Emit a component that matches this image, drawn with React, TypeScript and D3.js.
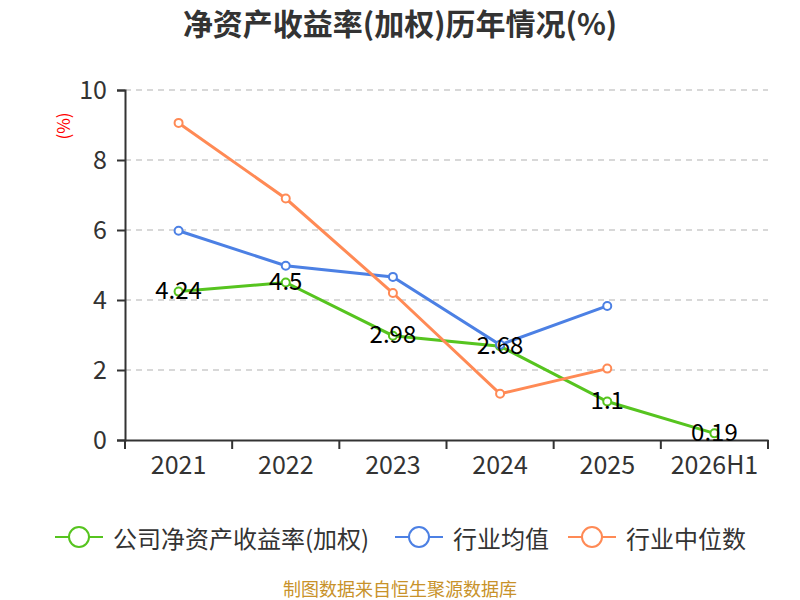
import React, { useEffect, useRef } from 'react';
import * as d3 from 'd3';

const years = ['2021', '2022', '2023', '2024', '2025', '2026H1'];
const companyRoe = [4.24, 4.5, 2.98, 2.68, 1.1, 0.19];
const industryAvg = [5.98, 4.98, 4.66, 2.72, 3.83];
const industryMedian = [9.06, 6.9, 4.2, 1.32, 2.04];
const yTicks = [0, 2, 4, 6, 8, 10];

const FONT = '"Noto Sans CJK SC", "Noto Sans", sans-serif';

const series = [
  { name: '公司净资产收益率(加权)', values: companyRoe, color: '#56c41f', labels: true },
  { name: '行业均值', values: industryAvg, color: '#4c80e4', labels: false },
  { name: '行业中位数', values: industryMedian, color: '#ff8a55', labels: false },
];

const App: React.FC = () => {
  const svgRef = useRef<SVGSVGElement>(null);

  useEffect(() => {
    document.body.style.margin = '0';
    if (!svgRef.current) return;
    const svg = d3.select(svgRef.current);
    svg.selectAll('*').remove();

    const left = 125, right = 768, top = 90, bottom = 440;

    const x = d3.scaleBand().domain(years).range([left, right]);
    const y = d3.scaleLinear().domain([0, 10]).range([bottom, top]);
    const cx = (i: number) => (x(years[i]) || 0) + x.bandwidth() / 2;

    // title
    svg.append('text')
      .attr('x', 400).attr('y', 35)
      .attr('text-anchor', 'middle')
      .attr('font-family', FONT)
      .attr('font-size', 30)
      .attr('font-weight', 'bold')
      .attr('fill', '#333')
      .text('净资产收益率(加权)历年情况(%)');

    // gridlines
    svg.append('g').selectAll('line')
      .data(yTicks.filter(d => d > 0))
      .join('line')
      .attr('x1', left).attr('x2', right)
      .attr('y1', d => y(d)).attr('y2', d => y(d))
      .attr('stroke', '#ccc')
      .attr('stroke-width', 1.5)
      .attr('stroke-dasharray', '6,5');

    // y axis
    const yAxis = svg.append('g')
      .attr('transform', `translate(${left},0)`)
      .call(d3.axisLeft(y).tickValues(yTicks).tickSize(8).tickPadding(10).tickFormat(d3.format('d')));
    yAxis.select('.domain').attr('stroke', '#333').attr('stroke-width', 2);
    yAxis.selectAll('.tick line').attr('stroke', '#333').attr('stroke-width', 2);
    yAxis.selectAll('text')
      .attr('font-family', FONT).attr('font-size', 25).attr('fill', '#333');

    // y axis name
    svg.append('text')
      .attr('transform', 'translate(62,126) rotate(-90)')
      .attr('text-anchor', 'middle')
      .attr('dominant-baseline', 'central')
      .attr('font-family', FONT)
      .attr('font-size', 17)
      .attr('fill', 'red')
      .text('(%)');

    // x axis
    const xAxis = svg.append('g')
      .attr('transform', `translate(0,${bottom})`)
      .call(d3.axisBottom(x).tickSize(0).tickPadding(16));
    xAxis.select('.domain').attr('stroke', '#333').attr('stroke-width', 2);
    xAxis.selectAll('text')
      .attr('font-family', FONT).attr('font-size', 25).attr('fill', '#333');
    xAxis.selectAll('.bound')
      .data(d3.range(years.length + 1))
      .join('line')
      .attr('class', 'bound')
      .attr('x1', i => left + i * x.bandwidth())
      .attr('x2', i => left + i * x.bandwidth())
      .attr('y1', 0).attr('y2', 9)
      .attr('stroke', '#333').attr('stroke-width', 2);

    // lines
    series.forEach(s => {
      const line = d3.line<number>().x((_, i) => cx(i)).y(d => y(d));
      svg.append('path')
        .datum(s.values)
        .attr('d', line)
        .attr('fill', 'none')
        .attr('stroke', s.color)
        .attr('stroke-width', 3);
    });

    series.forEach(s => {
      svg.append('g').selectAll('circle')
        .data(s.values)
        .join('circle')
        .attr('cx', (_, i) => cx(i))
        .attr('cy', d => y(d))
        .attr('r', 4)
        .attr('fill', '#fff')
        .attr('stroke', s.color)
        .attr('stroke-width', 2);
    });

    series.filter(s => s.labels).forEach(s => {
      svg.append('g').selectAll('text')
        .data(s.values)
        .join('text')
        .attr('x', (_, i) => cx(i))
        .attr('y', d => y(d) - 3)
        .attr('text-anchor', 'middle')
        .attr('dominant-baseline', 'central')
        .attr('font-family', FONT)
        .attr('font-size', 24)
        .attr('fill', '#000')
        .text(d => String(d));
    });

    // legend
    const legendX = [55, 395, 568];
    const legend = svg.append('g');
    series.forEach((s, i) => {
      const g = legend.append('g').attr('transform', `translate(${legendX[i]},537)`);
      g.append('line').attr('x1', 0).attr('x2', 48).attr('y1', 0).attr('y2', 0)
        .attr('stroke', s.color).attr('stroke-width', 2);
      g.append('circle').attr('cx', 24).attr('cy', 0).attr('r', 10)
        .attr('fill', '#fff').attr('stroke', s.color).attr('stroke-width', 2);
      g.append('text').attr('x', 58).attr('y', 0)
        .attr('dominant-baseline', 'central')
        .attr('font-family', FONT).attr('font-size', 24).attr('fill', '#333')
        .text(s.name);
    });

    // source
    svg.append('text')
      .attr('x', 400).attr('y', 588)
      .attr('text-anchor', 'middle')
      .attr('dominant-baseline', 'central')
      .attr('font-family', FONT)
      .attr('font-size', 18)
      .attr('fill', '#c8922a')
      .text('制图数据来自恒生聚源数据库');
  }, []);

  return <svg ref={svgRef} width={800} height={600} style={{ display: 'block', background: '#fff' }} />;
};

export default App;
